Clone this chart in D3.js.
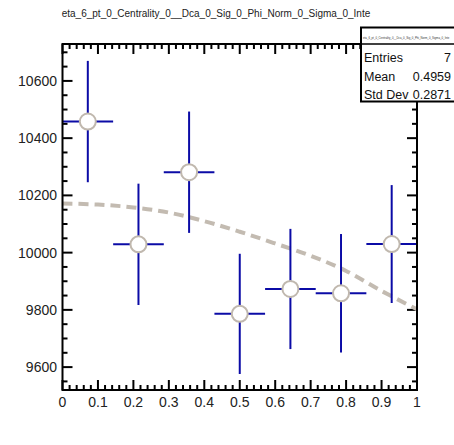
<!DOCTYPE html>
<html><head><meta charset="utf-8">
<script src="https://cdn.jsdelivr.net/npm/d3@7"></script>
<style>body{margin:0;background:#fff}svg{display:block}text{font-family:"Liberation Sans",Arial,sans-serif}</style>
</head><body>
<svg id="c" width="454" height="445"></svg>
<script>
const titleText = "eta_6_pt_0_Centrality_0__Dca_0_Sig_0_Phi_Norm_0_Sigma_0_Inte";
const binCenters = [0.0714, 0.2143, 0.3571, 0.5, 0.6429, 0.7857, 0.9286];
const binValues = [10458, 10029, 10281, 9786, 9873, 9858, 10030];
const binErrors = [212, 212, 212, 210, 210, 207, 206];
const binHalfWidth = 1 / 14;
const curveX = [0, 0.1, 0.2, 0.3, 0.4, 0.5, 0.6, 0.7, 0.8, 0.9, 1.0];
const curveY = [10172, 10168, 10158, 10140, 10110, 10073, 10032, 9989, 9936, 9866, 9802];
const xTicks = [0, 0.1, 0.2, 0.3, 0.4, 0.5, 0.6, 0.7, 0.8, 0.9, 1];
const yTicks = [9600, 9800, 10000, 10200, 10400, 10600];
const statLabels = ["Entries", "Mean", "Std Dev"];
const statValues = ["7", "0.4959", "0.2871"];

const svg = d3.select("#c");
const L = 62.5, R = 417, T = 44, B = 390;
const x = d3.scaleLinear().domain([0, 1]).range([L, R]);
const y = d3.scaleLinear().domain([9520, 10729]).range([B, T]);

// title
svg.append("text").attr("x", 216).attr("y", 17).attr("text-anchor", "middle")
  .attr("font-size", 10).attr("fill", "#222").text(titleText);

// ticks
const tg = svg.append("g").attr("stroke", "#000").attr("stroke-width", 2);
const xMinor = d3.range(0, 1.0001, 0.02);
xMinor.forEach(v => {
  const major = Math.abs(v * 10 - Math.round(v * 10)) < 1e-6;
  const len = major ? 10 : 5;
  tg.append("line").attr("x1", x(v)).attr("x2", x(v)).attr("y1", B).attr("y2", B - len);
  tg.append("line").attr("x1", x(v)).attr("x2", x(v)).attr("y1", T).attr("y2", T + len);
});
const yMinor = d3.range(9550, 10729, 50);
yMinor.forEach(v => {
  const major = v % 200 === 0;
  const len = major ? 10 : 5;
  tg.append("line").attr("x1", L).attr("x2", L + len).attr("y1", y(v)).attr("y2", y(v));
  tg.append("line").attr("x1", R).attr("x2", R - len).attr("y1", y(v)).attr("y2", y(v));
});

// tick labels
svg.append("g").selectAll("text").data(xTicks).join("text")
  .attr("x", d => x(d)).attr("y", 407).attr("text-anchor", "middle")
  .attr("font-size", 14).attr("fill", "#222").text(d => d3.format("")(d));
svg.append("g").selectAll("text").data(yTicks).join("text")
  .attr("x", 57).attr("y", d => y(d) + 5).attr("text-anchor", "end")
  .attr("font-size", 14).attr("fill", "#222").text(d => d);

// dashed curve
const line = d3.line().x(d => x(d[0])).y(d => y(d[1])).curve(d3.curveCatmullRom);
svg.append("path").datum(curveX.map((v, i) => [v, curveY[i]]))
  .attr("d", line).attr("fill", "none").attr("stroke", "#c3bbb1")
  .attr("stroke-width", 4).attr("stroke-dasharray", "10,6");

// error bars
const eb = svg.append("g").attr("stroke", "#0b0ba6").attr("stroke-width", 2);
binCenters.forEach((c, i) => {
  eb.append("line").attr("x1", x(c - binHalfWidth)).attr("x2", x(c + binHalfWidth))
    .attr("y1", y(binValues[i])).attr("y2", y(binValues[i]));
  eb.append("line").attr("x1", x(c)).attr("x2", x(c))
    .attr("y1", y(binValues[i] - binErrors[i])).attr("y2", y(binValues[i] + binErrors[i]));
});
// markers
svg.append("g").selectAll("circle").data(binCenters).join("circle")
  .attr("cx", d => x(d)).attr("cy", (d, i) => y(binValues[i])).attr("r", 8)
  .attr("fill", "#fff").attr("stroke", "#c0b8ae").attr("stroke-width", 2);

// frame
svg.append("rect").attr("x", L).attr("y", T).attr("width", R - L).attr("height", B - T)
  .attr("fill", "none").attr("stroke", "#000").attr("stroke-width", 2);

// stats box
const bx = 361, by = 27.5, bw = 100, bh = 74;
svg.append("rect").attr("x", bx).attr("y", by).attr("width", bw).attr("height", bh)
  .attr("fill", "#fff").attr("stroke", "#000").attr("stroke-width", 2);
svg.append("line").attr("x1", bx).attr("x2", bx + bw).attr("y1", 44).attr("y2", 44)
  .attr("stroke", "#000").attr("stroke-width", 1.5);
svg.append("text").attr("x", 363).attr("y", 38.5).attr("font-size", 2.8)
  .attr("fill", "#333").text(titleText);
statLabels.forEach((s, i) => {
  svg.append("text").attr("x", 364).attr("y", 62 + i * 18.7).attr("font-size", 12.5).attr("fill", "#111").text(s);
  svg.append("text").attr("x", 451).attr("y", 62 + i * 18.7).attr("text-anchor", "end")
    .attr("font-size", 12.5).attr("fill", "#111").text(statValues[i]);
});
</script>
</body></html>
